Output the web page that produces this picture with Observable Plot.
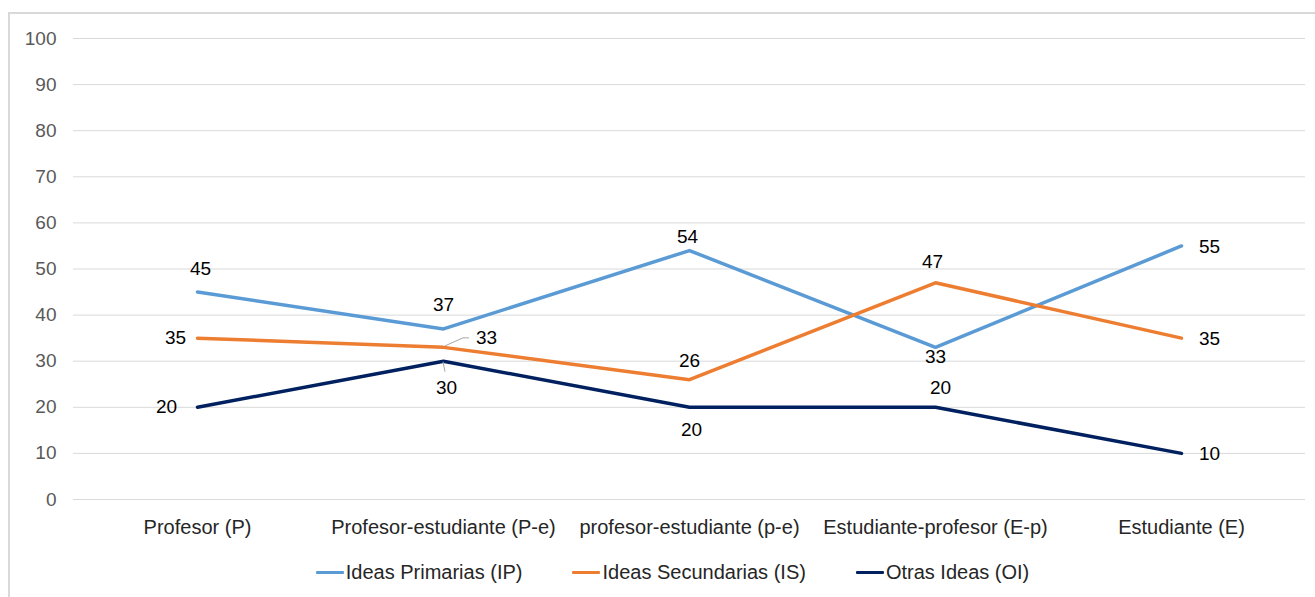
<!DOCTYPE html>
<html>
<head>
<meta charset="utf-8">
<script src="https://cdn.jsdelivr.net/npm/d3@7"></script>
<script src="https://cdn.jsdelivr.net/npm/@observablehq/plot@0.6"></script>
<style>
  html, body { margin: 0; padding: 0; background: #fff; overflow: hidden; }
  body { width: 1315px; height: 597px; position: relative; font-family: "Liberation Sans", Arial, sans-serif; }
  #frame { position: absolute; left: 8px; top: 12px; width: 1320px; height: 600px; border: 2px solid #d9d9d9; box-sizing: border-box; }
  #chart { position: absolute; left: 0; top: 0; }
  #legend { position: absolute; left: 0; top: 561px; width: 1315px; display: flex; justify-content: center; gap: 50px; font-size: 20px; color: #262626; padding-left: 30px; box-sizing: border-box; }
  .item { display: flex; align-items: center; }
  .sw { width: 28px; height: 3.5px; border-radius: 1px; margin-right: 2px; }
</style>
</head>
<body>
<div id="frame"></div>
<div id="chart"></div>
<div id="legend"></div>
<script>
// Categories along the x axis
const categories = ["Profesor (P)", "Profesor-estudiante (P-e)", "profesor-estudiante (p-e)", "Estudiante-profesor (E-p)", "Estudiante (E)"];

// Series names and values (%)
const seriesNames = ["Ideas Primarias (IP)", "Ideas Secundarias (IS)", "Otras Ideas (OI)"];
const ideasPrimarias = [45, 37, 54, 33, 55];
const ideasSecundarias = [35, 33, 26, 47, 35];
const otrasIdeas = [20, 30, 20, 20, 10];

const yTicks = [0, 10, 20, 30, 40, 50, 60, 70, 80, 90, 100];

const colors = ["#5b9bd5", "#ed7d31", "#002060"];

// Label offsets (pixels) from each point, per series
const labelOffsets = [
  [[3, -23], [0, -24], [-2, -14], [0, 10], [28, 1]],
  [[-22, 0], [43, -9], [0, -19], [-3, -21], [28, 1]],
  [[-31, 0], [3, 27], [2, 23], [5, -19], [28, 1]]
];

const values = [ideasPrimarias, ideasSecundarias, otrasIdeas];
const rows = [];
seriesNames.forEach((s, si) => {
  categories.forEach((c, ci) => {
    rows.push({series: s, cat: c, value: values[si][ci], dx: labelOffsets[si][ci][0], dy: labelOffsets[si][ci][1]});
  });
});

const labelMarks = rows.map(r => Plot.text([r], {
  x: "cat", y: "value", text: d => String(d.value),
  dx: r.dx, dy: r.dy, fill: "#000", fontSize: 19
}));

// Short gray leader lines for the crowded labels at the second category
const leaders = (index, scales) => {
  const g = d3.create("svg:g").attr("stroke", "#a6a6a6").attr("stroke-width", 1).attr("fill", "none");
  const x = scales.x(categories[1]) + scales.x.bandwidth() / 2;
  const yIS = scales.y(ideasSecundarias[1]);
  const yOI = scales.y(otrasIdeas[1]);
  g.append("path").attr("d", `M${x + 2},${yIS - 1}L${x + 20},${yIS - 9}L${x + 26},${yIS - 9}`);
  g.append("path").attr("d", `M${x},${yOI + 1}L${x + 2},${yOI + 11}`);
  return g.node();
};

const chart = Plot.plot({
  width: 1315,
  height: 550,
  marginLeft: 73,
  marginRight: 10,
  marginTop: 38,
  marginBottom: 51,
  style: {fontFamily: "'Liberation Sans', Arial, sans-serif", fontSize: "19px", background: "transparent", overflow: "visible"},
  x: {type: "band", domain: categories, padding: 0, label: null},
  y: {domain: [0, 100], label: null},
  marks: [
    Plot.gridY(yTicks, {stroke: "#d9d9d9", strokeOpacity: 1, strokeWidth: 1}),
    Plot.axisY(yTicks, {tickSize: 0, tickPadding: 17, fill: "#595959", fontSize: 19, label: null}),
    Plot.axisX({tickSize: 0, tickPadding: 20, fill: "#262626", fontSize: 20, label: null}),
    Plot.line(rows, {x: "cat", y: "value", z: "series", stroke: d => colors[seriesNames.indexOf(d.series)], strokeWidth: 3.5, strokeLinejoin: "round", strokeLinecap: "round"}),
    leaders,
    ...labelMarks
  ]
});
document.getElementById("chart").appendChild(chart);

const legend = document.getElementById("legend");
seriesNames.forEach((s, i) => {
  const item = document.createElement("div");
  item.className = "item";
  const sw = document.createElement("span");
  sw.className = "sw";
  sw.style.background = colors[i];
  const t = document.createElement("span");
  t.textContent = s;
  item.appendChild(sw);
  item.appendChild(t);
  legend.appendChild(item);
});
</script>
</body>
</html>
